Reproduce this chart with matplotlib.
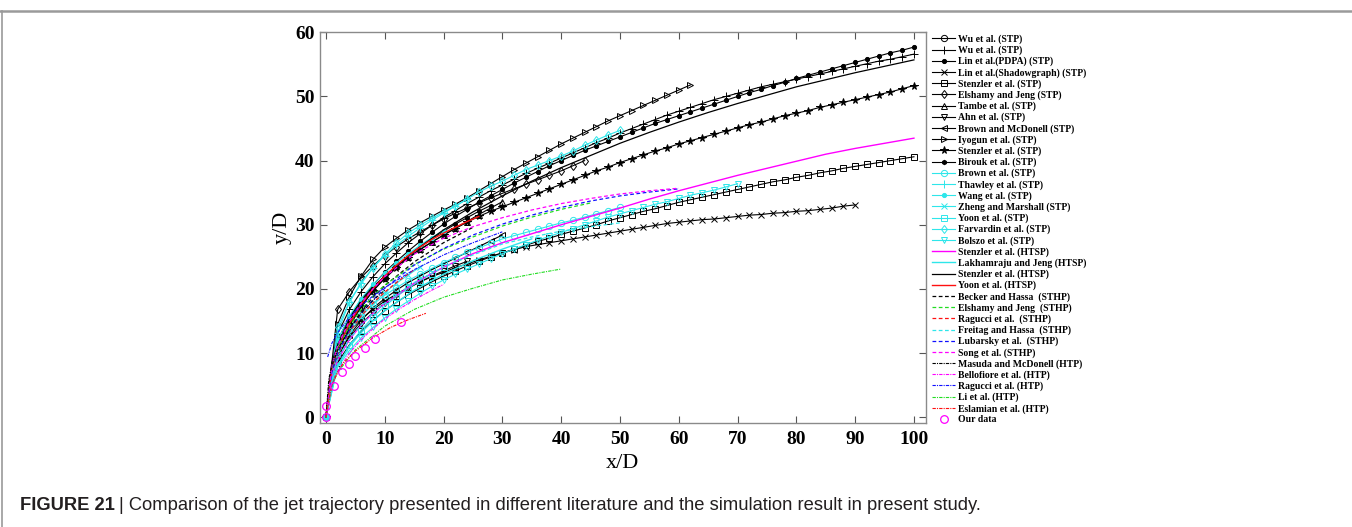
import numpy as np
import matplotlib.pyplot as plt
from matplotlib.lines import Line2D

plt.rcParams['font.family'] = ['Liberation Serif', 'DejaVu Serif']
plt.rcParams['font.weight'] = 'bold'

# marker data are read every 2 x/D
x_grid = np.arange(0, 101, 2)

# ---- marker series (STP), y/D read at x_grid ----
wu_o_y = [0, 10.5, 14.2, 17.2, 19.7, 21.7, 23.5]
wu_plus_y = [0, 13.0, 16.8, 19.6, 21.9, 23.9, 25.6, 27.2, 28.6, 29.9,
             31.1, 32.2, 33.3, 34.3, 35.3, 36.2, 37.1, 38.0, 38.8, 39.6,
             40.4, 41.2, 42.0, 42.8, 43.5, 44.3, 45.0, 45.7, 46.4, 47.1,
             47.7, 48.3, 48.9, 49.5, 50.0, 50.5, 51.0, 51.5, 51.9, 52.3,
             52.7, 53.1, 53.5, 53.9, 54.3, 54.7, 55.1, 55.5, 55.8, 56.2,
             56.6]
lin_pdpa_y = [0, 12.0, 15.6, 18.3, 20.6, 22.6, 24.3, 25.9, 27.4, 28.8,
              30.1, 31.3, 32.4, 33.5, 34.5, 35.5, 36.5, 37.4, 38.3, 39.2,
              40.0, 40.8, 41.6, 42.3, 43.0, 43.7, 44.4, 45.1, 45.8, 46.4,
              47.0, 47.6, 48.2, 48.8, 49.4, 50.0, 50.6, 51.1, 51.7, 52.2,
              52.8, 53.3, 53.8, 54.3, 54.8, 55.3, 55.8, 56.3, 56.8, 57.2,
              57.7]
lin_shadow_y = [0, 10.8, 13.4, 15.3, 16.8, 18.1, 19.2, 20.2, 21.1, 21.9,
                22.6, 23.3, 23.9, 24.5, 25.1, 25.6, 26.1, 26.6, 26.9, 27.2,
                27.5, 27.8, 28.1, 28.4, 28.7, 29.0, 29.3, 29.6, 29.9, 30.2,
                30.4, 30.6, 30.8, 30.9, 31.1, 31.3, 31.5, 31.6, 31.8, 31.9,
                32.1, 32.2, 32.4, 32.6, 32.9, 33.1]
stenzler_sq_y = [0, 8.5, 11.3, 13.4, 15.1, 16.6, 17.9, 19.1, 20.1, 21.1,
                 22.0, 22.8, 23.6, 24.3, 25.0, 25.6, 26.2, 26.8, 27.4, 27.9,
                 28.5, 29.0, 29.5, 30.0, 30.6, 31.1, 31.6, 32.1, 32.5, 33.0,
                 33.5, 33.9, 34.3, 34.7, 35.1, 35.5, 35.9, 36.3, 36.7, 37.0,
                 37.4, 37.7, 38.1, 38.4, 38.8, 39.1, 39.4, 39.7, 40.0, 40.3,
                 40.6]
elshamy_y = [0, 16.8, 19.6, 21.8, 23.6, 25.2, 26.6, 27.8, 28.9, 29.9,
             30.9, 31.8, 32.6, 33.4, 34.2, 34.9, 35.6, 36.3, 37.0, 37.7,
             38.4, 39.2, 40.0]
tambe_y = [0, 12.0, 15.5, 18.2, 20.3, 22.0, 23.5, 24.9, 26.2, 27.3,
           28.4, 29.5, 30.5, 31.6, 32.6, 33.6]
ahn_y = [0, 9.5, 12.5, 14.6, 16.3, 17.8, 19.0, 20.1, 21.1, 22.0, 22.8, 23.6, 24.3]
brown_mcd_y = [0, 9.5, 12.8, 15.1, 17.0, 18.5, 19.8, 21.0, 22.0, 23.0,
               23.9, 24.8, 25.7, 26.6, 27.5, 28.4]
iyogun_y = [0, 14.5, 18.8, 22.0, 24.6, 26.5, 27.9, 29.2, 30.3, 31.3,
            32.3, 33.2, 34.2, 35.3, 36.4, 37.5, 38.6, 39.6, 40.6, 41.6,
            42.6, 43.5, 44.4, 45.3, 46.2, 47.0, 47.8, 48.6, 49.4, 50.2,
            51.0, 51.8]
stenzler_star_y = [0, 10.8, 14.6, 17.4, 19.7, 21.6, 23.3, 24.8, 26.1, 27.3,
                   28.4, 29.4, 30.4, 31.3, 32.1, 32.8, 33.5, 34.2, 34.9, 35.6,
                   36.3, 37.0, 37.7, 38.4, 39.0, 39.7, 40.3, 40.9, 41.5, 42.0,
                   42.6, 43.1, 43.6, 44.1, 44.6, 45.1, 45.6, 46.0, 46.5, 47.0,
                   47.4, 47.8, 48.3, 48.7, 49.1, 49.5, 49.9, 50.3, 50.7, 51.2,
                   51.7]
birouk_y = [0, 11.5, 15.2, 17.9, 20.1, 22.0, 23.6, 25.1, 26.5, 27.8,
            29.0, 30.1, 31.1, 32.1, 33.0]
brown_y = [0, 11.0, 13.8, 15.9, 17.6, 19.0, 20.2, 21.3, 22.3, 23.2,
           24.1, 24.9, 25.7, 26.4, 27.1, 27.8, 28.3, 28.8, 29.3, 29.8,
           30.3, 30.7, 31.2, 31.7, 32.2, 32.7]
thawley_y = [0, 13.2, 18.0, 21.0, 23.3, 25.2, 26.8, 28.2, 29.5, 30.7, 31.8, 32.9, 34.0]
wang_y = [0, 12.0, 15.8, 18.5, 20.7, 22.5, 24.1, 25.5, 26.8, 28.0, 29.1]
zheng_y = [0, 9.8, 13.2, 15.7, 17.7, 19.4, 20.9, 22.2, 23.4]
yoon_y = [0, 8.0, 11.2, 13.6, 15.6, 17.3, 18.8, 20.1, 21.3, 22.4, 23.4]
farvardin_y = [0, 14.0, 18.0, 20.8, 23.3, 25.4, 27.2, 28.7, 29.9, 31.0,
               32.0, 32.9, 34.0, 35.1, 36.0, 36.8, 37.7, 38.6, 39.3, 40.0,
               40.7, 41.5, 42.4, 43.2, 44.0, 44.7]
bolszo_y = [0, 7.8, 10.4, 12.4, 14.0, 15.5, 16.9, 18.1, 19.3, 20.4,
            21.4, 22.3, 23.1, 23.9, 24.7, 25.5, 26.2, 26.9, 27.6, 28.2,
            28.8, 29.4, 30.0, 30.6, 31.2, 31.7, 32.2, 32.7, 33.2, 33.6,
            34.1, 34.6, 35.0, 35.4, 35.9, 36.4]

# ---- correlations drawn as plain lines ----
stz_htsp_m_x = [0, 1, 2, 4, 6, 8, 10, 15, 20, 25, 30, 35, 40, 45, 50, 55, 60, 65, 70, 75, 80, 85, 90, 95, 100]
stz_htsp_m_y = [0, 6.5, 8.9, 12.1, 14.4, 16.2, 17.7, 20.9, 23.4, 25.5, 27.2, 28.6, 30.0, 31.3, 32.6,
                34.0, 35.3, 36.5, 37.7, 38.8, 39.9, 41.0, 41.9, 42.7, 43.5]
lakham_x = [0, 1, 2, 4, 6, 8, 10, 15, 20, 25, 30, 35]
lakham_y = [0, 5.5, 8.0, 11.0, 13.2, 15.0, 16.6, 19.8, 22.3, 24.4, 26.2, 27.8]
stz_htsp_k_x = [0, 1, 2, 4, 6, 8, 10, 15, 20, 25, 30, 35, 40, 45, 50, 55, 60, 65, 70, 75, 80, 85, 90, 95, 100]
stz_htsp_k_y = [0, 8.5, 11.3, 15.0, 17.8, 20.0, 21.8, 25.9, 29.2, 32.0, 34.5, 36.8, 38.9, 40.8, 42.7,
                44.4, 46.0, 47.5, 48.9, 50.2, 51.5, 52.6, 53.7, 54.7, 55.7]
yoon_htsp_x = [0, 1, 2, 4, 6, 8, 10, 12, 14, 16, 18, 20, 22, 24, 26]
yoon_htsp_y = [0, 7.5, 10.5, 14.6, 17.6, 20.0, 22.0, 23.7, 25.2, 26.5, 27.7, 28.7, 29.6, 30.5, 31.3]
becker_x = [0, 1, 2, 4, 6, 8, 10, 15, 20, 25]
becker_y = [0, 7.0, 10.0, 13.8, 16.5, 18.7, 20.5, 24.2, 27.2, 29.6]
elshamy_sthp_x = [0, 1, 2, 4, 6, 8, 10, 15, 20, 25, 30, 35, 40, 45]
elshamy_sthp_y = [0, 7.5, 10.5, 14.2, 16.8, 18.9, 20.6, 23.8, 26.2, 28.1, 29.8, 31.2, 32.4, 33.4]
ragucci_sthp_x = [0, 1, 2, 4, 6, 8, 10, 12, 15]
ragucci_sthp_y = [0, 7.0, 9.8, 13.3, 15.8, 17.8, 19.5, 21.0, 23.0]
freitag_x = [0, 1, 2, 4, 6, 8, 10, 15, 20, 25, 30, 35, 40, 45, 50]
freitag_y = [0, 6.5, 9.0, 12.2, 14.4, 16.2, 17.8, 21.0, 23.4, 25.3, 27.0, 28.1, 29.0, 29.7, 30.3]
lubarsky_x = [0, 1, 2, 4, 6, 8, 10, 15, 20, 25, 30, 35, 40, 45, 50, 55, 60]
lubarsky_y = [0, 7.0, 10.0, 13.6, 16.2, 18.3, 20.1, 23.7, 26.3, 28.4, 30.1, 31.5, 32.7, 33.7, 34.5, 35.1, 35.6]
song_x = [0, 1, 2, 4, 6, 8, 10, 15, 20, 25, 30, 35, 40, 45, 50, 55, 60]
song_y = [0, 8.0, 11.2, 15.0, 17.8, 20.0, 21.9, 25.4, 27.9, 29.7, 31.1, 32.3, 33.3, 34.1, 34.8, 35.3, 35.7]
masuda_x = [0, 0.5, 1, 2, 4, 6, 8, 10]
masuda_y = [0, 6.0, 8.0, 10.5, 13.8, 16.2, 18.2, 19.8]
bellofiore_x = [0, 1, 2, 4, 6, 8, 10, 12, 15, 18, 20]
bellofiore_y = [0, 5.0, 7.2, 10.0, 12.1, 13.8, 15.3, 16.6, 18.3, 19.8, 20.7]
ragucci_htp_x = [0.3, 1, 2, 4, 6, 8, 10, 15, 20, 25, 30]
ragucci_htp_y = [9.4, 11.5, 13.2, 15.6, 17.4, 18.9, 20.2, 23.0, 25.3, 27.2, 28.9]
li_x = [0, 1, 2, 5, 10, 15, 20, 25, 30, 35, 40]
li_y = [0, 5.0, 7.0, 10.5, 14.2, 16.8, 18.7, 20.1, 21.4, 22.3, 23.1]
eslamian_x = [0, 1, 2, 3, 5, 8, 11, 14, 17]
eslamian_y = [0, 5.0, 7.0, 8.5, 10.3, 12.4, 14.0, 15.2, 16.2]

# ---- present simulation ----
our_x = [0, 0.1, 1.4, 2.7, 3.9, 5.0, 6.7, 8.4, 12.7]
our_y = [0, 1.7, 4.9, 7.0, 8.3, 9.5, 10.8, 12.2, 14.9]

K = 'black'
C = '#2ee6ea'
M = '#ff00ff'
G = '#22dd22'
R = '#ff1010'
B = '#1010ff'

fig = plt.figure(figsize=(13.52, 5.27), dpi=100)
ax = fig.add_axes([0.2367, 0.1979, 0.448, 0.7408])

def mk(y, label, color, marker, filled=False, ms=4.5):
    ax.plot(x_grid[:len(y)], y, color=color, lw=0.8, marker=marker, ms=ms,
            mew=0.7, mfc=color if filled else 'none', mec=color, label=label)

mk(wu_o_y, 'Wu et al. (STP)', K, 'o')
mk(wu_plus_y, 'Wu et al. (STP)', K, '+', ms=5.5)
mk(lin_pdpa_y, 'Lin et al.(PDPA) (STP)', K, 'o', filled=True, ms=3)
mk(lin_shadow_y, 'Lin et al.(Shadowgraph) (STP)', K, 'x', ms=3.8)
mk(stenzler_sq_y, 'Stenzler et al. (STP)', K, 's', ms=3.8)
mk(elshamy_y, 'Elshamy and Jeng (STP)', K, 'd')
mk(tambe_y, 'Tambe et al. (STP)', K, '^')
mk(ahn_y, 'Ahn et al. (STP)', K, 'v')
mk(brown_mcd_y, 'Brown and McDonell (STP)', K, '<')
mk(iyogun_y, 'Iyogun et al. (STP)', K, '>')
mk(stenzler_star_y, 'Stenzler et al. (STP)', K, '*', filled=True, ms=5.5)
mk(birouk_y, 'Birouk et al. (STP)', K, 'h', filled=True, ms=3.2)
mk(brown_y, 'Brown et al. (STP)', C, 'o')
mk(thawley_y, 'Thawley et al. (STP)', C, '+', ms=5.5)
mk(wang_y, 'Wang et al. (STP)', C, 'o', filled=True, ms=3)
mk(zheng_y, 'Zheng and Marshall (STP)', C, 'x', ms=3.8)
mk(yoon_y, 'Yoon et al. (STP)', C, 's', ms=3.8)
mk(farvardin_y, 'Farvardin et al. (STP)', C, 'd')
mk(bolszo_y, 'Bolszo et al. (STP)', C, 'v')

ax.plot(stz_htsp_m_x, stz_htsp_m_y, color=M, lw=1.0, label='Stenzler et al. (HTSP)')
ax.plot(lakham_x, lakham_y, color=C, lw=1.0, label='Lakhamraju and Jeng (HTSP)')
ax.plot(stz_htsp_k_x, stz_htsp_k_y, color=K, lw=0.9, label='Stenzler et al. (HTSP)')
ax.plot(yoon_htsp_x, yoon_htsp_y, color=R, lw=1.0, label='Yoon et al. (HTSP)')

dash = (0, (3, 2))
ax.plot(becker_x, becker_y, color=K, lw=0.9, ls=dash, label='Becker and Hassa  (STHP)')
ax.plot(elshamy_sthp_x, elshamy_sthp_y, color=G, lw=0.9, ls=dash, label='Elshamy and Jeng  (STHP)')
ax.plot(ragucci_sthp_x, ragucci_sthp_y, color=R, lw=0.9, ls=dash, label='Ragucci et al.  (STHP)')
ax.plot(freitag_x, freitag_y, color=C, lw=0.9, ls=dash, label='Freitag and Hassa  (STHP)')
ax.plot(lubarsky_x, lubarsky_y, color=B, lw=0.9, ls=dash, label='Lubarsky et al.  (STHP)')
ax.plot(song_x, song_y, color=M, lw=0.9, ls=dash, label='Song et al. (STHP)')

dashdot = (0, (3, 1, 1, 1))
ax.plot(masuda_x, masuda_y, color=K, lw=0.8, ls=dashdot, label='Masuda and McDonell (HTP)')
ax.plot(bellofiore_x, bellofiore_y, color=M, lw=0.8, ls=dashdot, label='Bellofiore et al. (HTP)')
ax.plot(ragucci_htp_x, ragucci_htp_y, color=B, lw=0.8, ls=dashdot, label='Ragucci et al. (HTP)')
ax.plot(li_x, li_y, color=G, lw=0.8, ls=dashdot, label='Li et al. (HTP)')
ax.plot(eslamian_x, eslamian_y, color=R, lw=0.8, ls=dashdot, label='Eslamian et al. (HTP)')

ax.plot(our_x, our_y, ls='none', marker='o', ms=5.5, mfc='none', mec=M, mew=0.9, label='Our data')

ax.set_xlim(-1, 102)
ax.set_ylim(-0.85, 60)
ax.set_xticks(np.arange(0, 101, 10))
ax.set_yticks(np.arange(0, 61, 10))
ax.tick_params(direction='in', top=True, right=True, length=5, width=0.8,
               labelsize=14, color='#555555')
ax.tick_params(axis='x', pad=6)
ax.tick_params(axis='y', pad=4)
for s in ax.spines.values():
    s.set_color('#8a8a8a')
    s.set_linewidth(1.0)

ax.set_xlabel('x/D', fontsize=16)
ax.set_ylabel('y/D', fontsize=16)
ax.xaxis.set_label_coords(0.5, -0.08)
ax.yaxis.set_label_coords(-0.046, 0.5)

leg = ax.legend(loc='upper left', bbox_to_anchor=(932 / 1352, 1 - 34.5 / 527),
                bbox_transform=fig.transFigure, frameon=False, fontsize=7,
                borderpad=0, borderaxespad=0, labelspacing=0.163,
                handlelength=2.4, handletextpad=0.3, numpoints=1)

# page frame and caption
fig.add_artist(Line2D([0, 1], [1 - 10.5 / 527] * 2, transform=fig.transFigure,
                      color='#9a9a9a', lw=1.8))
fig.add_artist(Line2D([0.0012, 0.0012], [0, 1 - 10.5 / 527], transform=fig.transFigure,
                      color='#9a9a9a', lw=1.2))
t1 = fig.text(20 / 1352, 1 - 506 / 527, 'FIGURE 21', family='Liberation Sans',
              weight='bold', fontsize=13.2, va='center', color='#231f20')
ax.annotate('| Comparison of the jet trajectory presented in different literature and the '
            'simulation result in present study.',
            xy=(1, 0.5), xycoords=t1, xytext=(3, 0), textcoords='offset points',
            va='center', family='Liberation Sans', weight='normal', fontsize=13.2,
            color='#231f20', annotation_clip=False)

fig.savefig('out.png', dpi=100)
